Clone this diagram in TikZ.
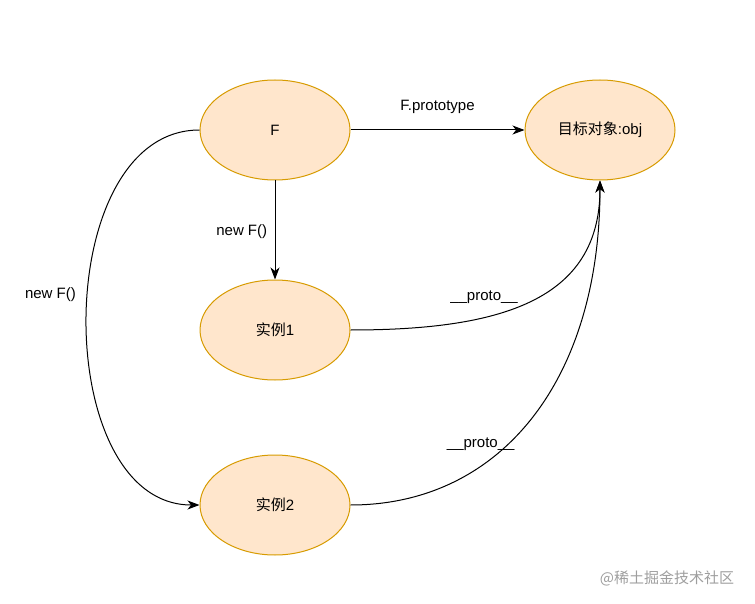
\documentclass[tikz,border=0pt]{standalone}
\usepackage{fontspec}
\setmainfont{Liberation Sans}
\newfontfamily\cjk{Noto Sans CJK SC}
\usetikzlibrary{shapes.geometric,arrows.meta}
\definecolor{protofill}{HTML}{FFE6CC}
\definecolor{protodraw}{HTML}{D79B00}
\begin{document}
\begin{tikzpicture}[
        x=1pt, y=-1pt,
        node distance=200pt,
        oval/.style={ellipse, minimum width=150pt, minimum height=100pt, inner sep=0pt, align=center, draw=protodraw, fill=protofill, line width=1pt},
        arrow/.style={line width=1pt,-{Stealth[length=12pt,width=9pt,inset=3.5pt]}}
    ]
        \useasboundingbox (0,0) rectangle (755,604);
        \tikzset{every node/.append style={font=\fontsize{15}{18}\selectfont}}

        % Constructor
        \node (F) [oval] at (275,130) {F};

        % Prototype object
        \node (target) [oval, right of=F, xshift=125pt] {{\cjk 目标对象}:obj};

        % Instances
        \node (inst1) [oval, below of=F] {{\cjk 实例}1};
        \node (inst2) [oval, below of=inst1, yshift=25pt] {{\cjk 实例}2};

        % Connections
        \draw[arrow] (F.east) -- node[midway, above=13pt] {F.prototype} (target.west);
        \draw[arrow] (F.south) -- node[midway, left=4pt, yshift=-2pt] {new F()} (inst1.north);
        \draw[arrow] (F.west) .. controls +(-150,0) and +(-150,0) .. node[pos=0.46, left=8pt] {new F()} (inst2.west);

        \draw[arrow] (inst1.east) .. controls +(150,0) and +(0,120) .. node[pos=0.34, above=10pt] {\_\_proto\_\_} (target.south);
        \draw[arrow] (inst2.east) .. controls +(150,0) and +(0,200) .. node[pos=0.33, above=12pt] {\_\_proto\_\_} (target.south);

        % Watermark
        \node (watermark) [text=black!38] at (667,578) {{\cjk @稀土掘金技术社区}};
    \end{tikzpicture}
\end{document}
